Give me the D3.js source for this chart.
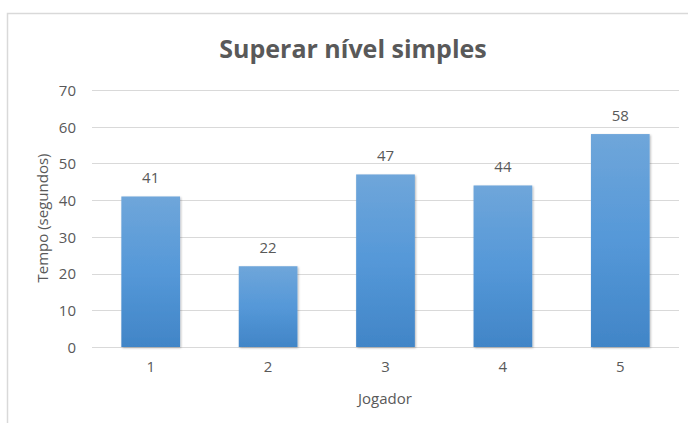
<!DOCTYPE html>
<html>
<head>
<meta charset="utf-8">
<script src="https://cdn.jsdelivr.net/npm/d3@7"></script>
<style>
  html, body { margin: 0; padding: 0; background: #fff; }
  svg { display: block; }
  text { font-family: "Open Sans", "DejaVu Sans", sans-serif; fill: #595959; }
</style>
</head>
<body>
<svg id="chart" width="688" height="423"></svg>
<script>
// Time to clear a simple level, per player
const players = ["1", "2", "3", "4", "5"];
const seconds = [41, 22, 47, 44, 58];
const yTicks = [0, 10, 20, 30, 40, 50, 60, 70];

const chartTitle = "Superar nível simples";
const yTitle = "Tempo (segundos)";
const xTitle = "Jogador";

const W = 688, H = 423;
const plot = { left: 92, right: 679, top: 90, bottom: 347 };

const svg = d3.select("#chart");

// Chart-area frame (left and top edges are visible)
svg.append("rect")
  .attr("x", 7.5).attr("y", 13.5)
  .attr("width", W + 20).attr("height", H + 20)
  .attr("fill", "#fff")
  .attr("stroke", "#d9d9d9")
  .attr("stroke-width", 1.5);

// Bar fill: lighter blue at the top, deeper at the base
const defs = svg.append("defs");
const grad = defs.append("linearGradient")
  .attr("id", "barFill")
  .attr("x1", 0).attr("y1", 0).attr("x2", 0).attr("y2", 1);
grad.append("stop").attr("offset", "0%").attr("stop-color", "#6fa6da");
grad.append("stop").attr("offset", "50%").attr("stop-color", "#5598d8");
grad.append("stop").attr("offset", "100%").attr("stop-color", "#4185c7");

const shadow = defs.append("filter")
  .attr("id", "barShadow")
  .attr("x", "-20%").attr("y", "-10%").attr("width", "140%").attr("height", "120%");
shadow.append("feDropShadow")
  .attr("dx", 1).attr("dy", 1).attr("stdDeviation", 1.2)
  .attr("flood-color", "#000").attr("flood-opacity", 0.28);

const x = d3.scaleBand()
  .domain(players)
  .range([plot.left, plot.right])
  .paddingInner(0.5)
  .paddingOuter(0.25);

const y = d3.scaleLinear()
  .domain([0, 70])
  .range([plot.bottom, plot.top]);

// Horizontal gridlines
svg.append("g")
  .selectAll("line")
  .data(yTicks)
  .join("line")
  .attr("x1", plot.left).attr("x2", plot.right)
  .attr("y1", d => Math.round(y(d)) + 0.5)
  .attr("y2", d => Math.round(y(d)) + 0.5)
  .attr("stroke", "#d9d9d9")
  .attr("stroke-width", 1.2);

// Y axis labels
const yAxis = svg.append("g")
  .attr("transform", `translate(${plot.left},0)`)
  .call(d3.axisLeft(y).tickValues(yTicks).tickSize(0).tickPadding(16));
yAxis.select(".domain").remove();
yAxis.selectAll("text")
  .style("font-size", "15px")
  .attr("fill", "#595959")
  .attr("dy", "0.36em");

// X axis labels
const xAxis = svg.append("g")
  .attr("transform", `translate(0,${plot.bottom})`)
  .call(d3.axisBottom(x).tickSize(0).tickPadding(14));
xAxis.select(".domain").remove();
xAxis.selectAll("text")
  .style("font-size", "15px")
  .attr("fill", "#595959");

// Bars
svg.append("g")
  .selectAll("rect")
  .data(players)
  .join("rect")
  .attr("x", d => x(d))
  .attr("width", x.bandwidth())
  .attr("y", (d, i) => y(seconds[i]))
  .attr("height", (d, i) => y(0) - y(seconds[i]))
  .attr("fill", "url(#barFill)")
  .attr("filter", "url(#barShadow)");

// Value labels
svg.append("g")
  .selectAll("text")
  .data(players)
  .join("text")
  .attr("x", d => x(d) + x.bandwidth() / 2)
  .attr("y", (d, i) => y(seconds[i]) - 13)
  .attr("text-anchor", "middle")
  .style("font-size", "15px")
  .text((d, i) => seconds[i]);

// Chart title
svg.append("text")
  .attr("x", 353)
  .attr("y", 58)
  .attr("text-anchor", "middle")
  .style("font-size", "25px")
  .style("font-weight", "700")
  .text(chartTitle);

// Axis titles
svg.append("text")
  .attr("transform", `translate(48,218) rotate(-90)`)
  .attr("text-anchor", "middle")
  .style("font-size", "15px")
  .text(yTitle);

svg.append("text")
  .attr("x", 385)
  .attr("y", 404)
  .attr("text-anchor", "middle")
  .style("font-size", "15px")
  .text(xTitle);
</script>
</body>
</html>
